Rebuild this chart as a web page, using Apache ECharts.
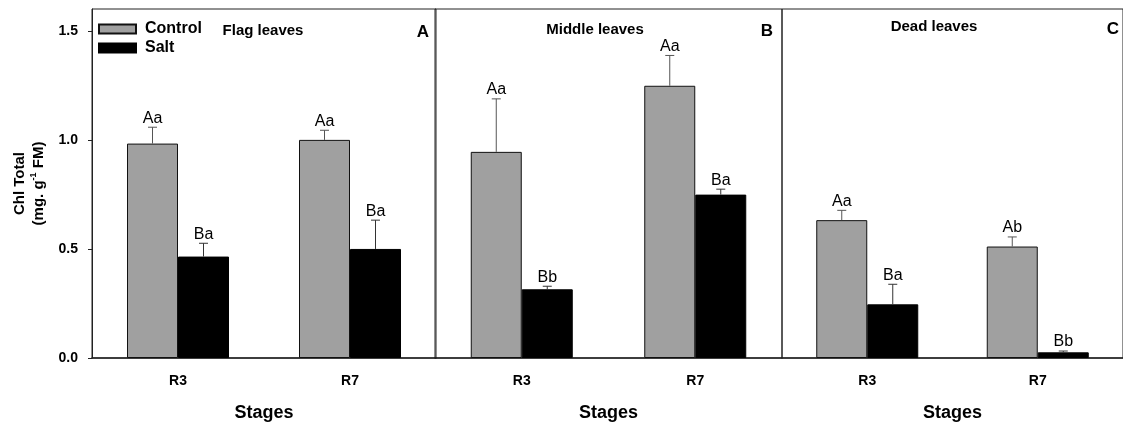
<!DOCTYPE html>
<html>
<head>
<meta charset="utf-8">
<script src="https://cdn.jsdelivr.net/npm/echarts@6/dist/echarts.min.js"></script>
<style>html,body{margin:0;padding:0;background:#fff}#c{width:1123px;height:427px}</style>
</head>
<body>
<div id="c"></div>
<script>
const categories = ['R3', 'R7'];
const yTicks = [0, 0.5, 1.0, 1.5];

const flagControl = [0.983, 1.000];
const flagControlErr = [0.075, 0.044];
const flagSalt = [0.465, 0.500];
const flagSaltErr = [0.061, 0.132];
const flagControlLetters = ['Aa', 'Aa'];
const flagSaltLetters = ['Ba', 'Ba'];

const middleControl = [0.945, 1.248];
const middleControlErr = [0.243, 0.139];
const middleSalt = [0.315, 0.749];
const middleSaltErr = [0.014, 0.025];
const middleControlLetters = ['Aa', 'Aa'];
const middleSaltLetters = ['Bb', 'Ba'];

const deadControl = [0.632, 0.511];
const deadControlErr = [0.045, 0.044];
const deadSalt = [0.246, 0.026];
const deadSaltErr = [0.092, 0.006];
const deadControlLetters = ['Aa', 'Ab'];
const deadSaltLetters = ['Ba', 'Bb'];

const panelTitles = ['Flag leaves', 'Middle leaves', 'Dead leaves'];
const panelLetters = ['A', 'B', 'C'];

const FONT = '"Liberation Sans", Arial, sans-serif';
const BAR_W = 51;
const GRAY = '#a0a0a0';

const panels = [
  {ctrl: flagControl, ctrlErr: flagControlErr, salt: flagSalt, saltErr: flagSaltErr, cl: flagControlLetters, sl: flagSaltLetters},
  {ctrl: middleControl, ctrlErr: middleControlErr, salt: middleSalt, saltErr: middleSaltErr, cl: middleControlLetters, sl: middleSaltLetters},
  {ctrl: deadControl, ctrlErr: deadControlErr, salt: deadSalt, saltErr: deadSaltErr, cl: deadControlLetters, sl: deadSaltLetters}
];

function errSeries(idx, vals, errs, letters, dir, lineColor) {
  return {
    type: 'custom',
    xAxisIndex: idx, yAxisIndex: idx,
    z: 5,
    data: vals.map((v, i) => [i, v, errs[i]]),
    renderItem: function (params, api) {
      const i = api.value(0);
      const v = api.value(1);
      const e = api.value(2);
      const base = api.coord([i, v]);
      const top = api.coord([i, v + e]);
      const x = base[0] + dir * BAR_W / 2;
      const cap = 4.5;
      return {
        type: 'group',
        children: [
          {type: 'line', shape: {x1: x, y1: base[1], x2: x, y2: top[1]}, style: {stroke: lineColor, lineWidth: 1}},
          {type: 'line', shape: {x1: x - cap, y1: top[1], x2: x + cap, y2: top[1]}, style: {stroke: lineColor, lineWidth: 1}},
          {type: 'text', style: {x: x, y: top[1] - 1, text: letters[params.dataIndex], textAlign: 'center', textVerticalAlign: 'bottom', font: '16px ' + FONT, fill: '#000'}}
        ]
      };
    }
  };
}

const grids = [
  {left: 92, top: 9, width: 344, height: 349},
  {left: 435, top: 9, width: 347, height: 349},
  {left: 782, top: 9, width: 344, height: 349}
].map(g => Object.assign(g, {show: true, borderColor: '#222', borderWidth: 1, backgroundColor: 'transparent'}));

const xAxes = grids.map((g, i) => ({
  type: 'category', gridIndex: i, data: categories,
  axisLine: {lineStyle: {color: '#222', width: 1.5}},
  axisTick: {alignWithLabel: true, length: 5, lineStyle: {color: '#222'}},
  axisLabel: {color: '#000', fontFamily: FONT, fontWeight: 'bold', fontSize: 14, margin: 16},
  name: 'Stages', nameLocation: 'middle', nameGap: 46,
  nameTextStyle: {color: '#000', fontFamily: FONT, fontWeight: 'bold', fontSize: 18}
}));

const yAxes = grids.map((g, i) => i === 0 ? ({
  type: 'value', gridIndex: 0, min: 0, max: 1.6,
  axisLine: {show: true, lineStyle: {color: '#222'}},
  axisTick: {show: true, length: 4, customValues: yTicks, lineStyle: {color: '#222'}},
  axisLabel: {customValues: yTicks, formatter: v => v.toFixed(1), color: '#000', fontFamily: FONT, fontWeight: 'bold', fontSize: 14, margin: 14},
  splitLine: {show: false},
  name: '{b|Chl Total}\n{b|(mg. g}{s|-1}{b| FM)}',
  nameLocation: 'middle', nameRotate: 90, nameGap: 44,
  nameTextStyle: {
    rich: {
      b: {fontFamily: FONT, fontWeight: 'bold', fontSize: 15, color: '#000', lineHeight: 19},
      s: {fontFamily: FONT, fontWeight: 'bold', fontSize: 9, color: '#000', verticalAlign: 'top', lineHeight: 19}
    }
  }
}) : ({
  type: 'value', gridIndex: i, min: 0, max: 1.6,
  axisLine: {show: false}, axisTick: {show: false}, axisLabel: {show: false}, splitLine: {show: false}
}));

const series = [];
panels.forEach((p, i) => {
  series.push({
    name: 'Control', type: 'bar', xAxisIndex: i, yAxisIndex: i, data: p.ctrl,
    barWidth: BAR_W, barGap: '0%',
    itemStyle: {color: GRAY, borderColor: '#111', borderWidth: 1}
  });
  series.push({
    name: 'Salt', type: 'bar', xAxisIndex: i, yAxisIndex: i, data: p.salt,
    barWidth: BAR_W, barGap: '0%',
    itemStyle: {color: '#000', borderColor: '#000', borderWidth: 1}
  });
  series.push(errSeries(i, p.ctrl, p.ctrlErr, p.cl, -1, '#555'));
  series.push(errSeries(i, p.salt, p.saltErr, p.sl, 1, '#333'));
});

const titleX = [263, 595, 934];
const titleY = [31, 30, 27];
const letterX = [423, 767, 1113];
const letterY = [32, 31, 29];
const graphics = [];
panelTitles.forEach((t, i) => {
  graphics.push({type: 'text', x: titleX[i], y: titleY[i], style: {text: t, font: 'bold 15px ' + FONT, fill: '#000', textAlign: 'center', textVerticalAlign: 'middle'}});
  graphics.push({type: 'text', x: letterX[i], y: letterY[i], style: {text: panelLetters[i], font: 'bold 17px ' + FONT, fill: '#000', textAlign: 'center', textVerticalAlign: 'middle'}});
});

const chart = echarts.init(document.getElementById('c'), null, {renderer: 'canvas'});
chart.setOption({
  animation: false,
  backgroundColor: '#fff',
  grid: grids,
  xAxis: xAxes,
  yAxis: yAxes,
  legend: {
    data: ['Control', 'Salt'], orient: 'vertical', left: 98, top: 21, padding: 0,
    icon: 'rect',
    itemWidth: 37, itemHeight: 9, itemGap: 3,
    textStyle: {fontFamily: FONT, fontWeight: 'bold', fontSize: 16, color: '#000', lineHeight: 16, padding: [0, 0, 0, 4]},
    selectedMode: false
  },
  graphic: graphics,
  series: series
});
</script>
</body>
</html>
